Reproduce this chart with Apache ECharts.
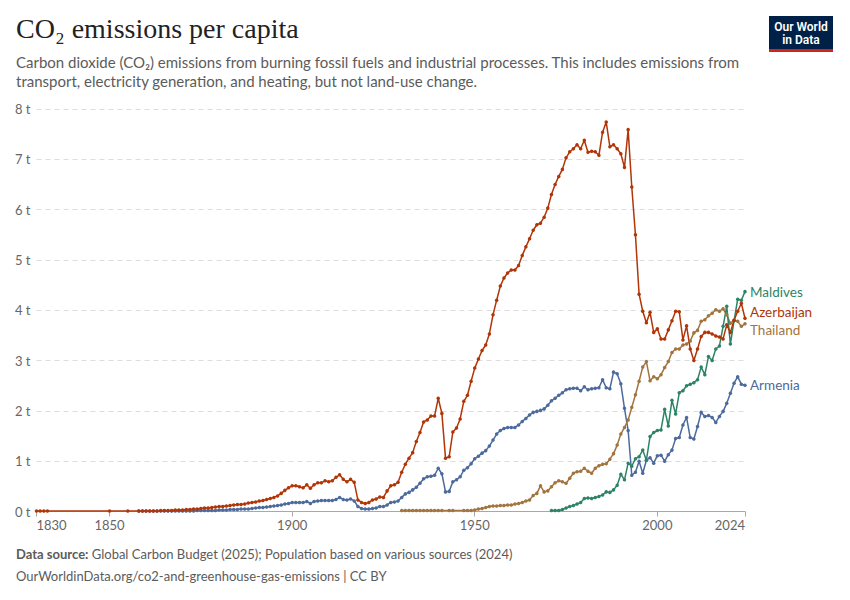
<!DOCTYPE html>
<html>
<head>
<meta charset="utf-8">
<script src="https://cdn.jsdelivr.net/npm/echarts@6/dist/echarts.min.js"></script>
<style>
html, body { margin: 0; padding: 0; background: #fff; }
#chart { width: 850px; height: 600px; }
</style>
</head>
<body>
<div id="chart"></div>
<script>
// CO2 per capita, tonnes, null = no data that year

var azerbaijanStart = 1830;
var azerbaijan = [
    0.01, 0.01, 0.01, 0.01,
    null, null, null, null, null, null, null, null, null, null, null, null, null, null, null, null,
    0.01, null, null, null, null, 0.01, null, null,
    0.01, 0.01, 0.01, 0.01, 0.01, 0.01, 0.02, 0.02, 0.02, 0.02,
    0.03, 0.03, 0.03, 0.04, 0.04, 0.05, 0.05, 0.06, 0.07, 0.07,
    0.08, 0.09, 0.10, 0.10, 0.11, 0.12, 0.13, 0.14, 0.14, 0.15,
    0.17, 0.18, 0.19, 0.21, 0.22, 0.24, 0.26, 0.28, 0.31, 0.36,
    0.42, 0.47,
    0.51, 0.51, 0.49, 0.47, 0.53, 0.46, 0.53, 0.57, 0.57, 0.61,
    0.59, 0.61, 0.68, 0.73, 0.64, 0.59, 0.64, 0.58, 0.23, 0.18,
    0.16, 0.18, 0.23, 0.25, 0.29, 0.28, 0.41, 0.51, 0.53, 0.58,
    0.78, 0.94, 1.06, 1.17, 1.39, 1.57, 1.78, 1.82, 1.90, 1.90,
    2.25, 1.95, 1.06, 1.09, 1.58, 1.66, 1.84, 2.19, 2.31, 2.59,
    2.85, 3.03, 3.20, 3.31, 3.53, 3.91, 4.20, 4.48, 4.64, 4.74,
    4.80, 4.80, 4.89, 5.09, 5.26, 5.42, 5.59, 5.70, 5.73, 5.85,
    6.03, 6.30, 6.50, 6.66, 6.80, 7.03, 7.15, 7.21, 7.29, 7.21,
    7.38, 7.14, 7.16, 7.15, 7.08, 7.54, 7.74, 7.25, 7.29, 7.21,
    7.11, 6.84, 7.59, 6.45, 5.50, 4.32, 3.98, 3.75, 3.96, 3.56,
    3.63, 3.43, 3.43, 3.61, 3.79, 3.98, 3.97, 3.41, 3.69, 3.23,
    3.00, 3.23, 3.48, 3.56, 3.56, 3.53, 3.49, 3.47, 3.43, 3.71,
    3.56, 3.80, 3.98, 4.14, 3.84
];

var armeniaStart = 1858;
var armenia = [
    0.01, 0.01, 0.01, 0.01, 0.01, 0.01, 0.01, 0.01, 0.01, 0.01,
    0.01, 0.01, 0.01, 0.01, 0.01, 0.01, 0.02, 0.02, 0.02, 0.02,
    0.02, 0.02, 0.03, 0.03, 0.03, 0.04, 0.04, 0.04, 0.05, 0.05,
    0.05, 0.06, 0.07, 0.08, 0.08, 0.09, 0.10, 0.11, 0.12, 0.13, 0.15, 0.16,
    0.18, 0.18, 0.18, 0.18, 0.20, 0.16, 0.20, 0.21, 0.22, 0.22,
    0.22, 0.22, 0.24, 0.28, 0.24, 0.23, 0.25, 0.21, 0.10, 0.06,
    0.05, 0.05, 0.06, 0.07, 0.10, 0.10, 0.13, 0.18, 0.19, 0.21,
    0.28, 0.35, 0.38, 0.43, 0.48, 0.56, 0.65, 0.69, 0.70, 0.72,
    0.86, 0.75, 0.39, 0.40, 0.59, 0.63, 0.69, 0.82, 0.87, 0.95,
    1.05, 1.10, 1.16, 1.21, 1.30, 1.42, 1.54, 1.61, 1.65, 1.67,
    1.67, 1.67, 1.72, 1.79, 1.85, 1.92, 1.97, 1.99, 2.01, 2.04,
    2.11, 2.20, 2.25, 2.31, 2.36, 2.42, 2.44, 2.45, 2.45, 2.40,
    2.48, 2.42, 2.44, 2.45, 2.46, 2.62, 2.46, 2.44, 2.77, 2.74,
    2.54, 2.05, 1.61, 0.72, 0.78, 1.00, 0.76, 1.02, 1.07, 0.96,
    1.11, 1.12, 1.00, 1.13, 1.22, 1.45, 1.47, 1.72, 1.87, 1.47,
    1.44, 1.69, 1.97, 1.89, 1.91, 1.87, 1.77, 1.89, 1.99, 2.15,
    2.35, 2.55, 2.68, 2.53, 2.51
];

var thailandStart = 1930;
var thailand = [
    0.02, 0.02, 0.02, 0.02, 0.02, 0.02, 0.02, 0.02, 0.02, 0.02,
    0.02, 0.02, null, 0.02, 0.02, null, null, 0.02, 0.02, 0.02,
    0.03, 0.05, 0.06, 0.08, 0.10, 0.11, 0.11, 0.12, 0.12, 0.13,
    0.13, 0.15, 0.16, 0.18, 0.21, 0.23, 0.32, 0.36, 0.51, 0.39,
    0.41, 0.49, 0.57, 0.61, 0.59, 0.56, 0.66, 0.76, 0.79, 0.80,
    0.86, 0.80, 0.76, 0.86, 0.91, 0.94, 0.95, 1.04, 1.15, 1.32,
    1.54, 1.67, 1.82, 2.07, 2.32, 2.59, 2.87, 2.98, 2.60, 2.68,
    2.64, 2.72, 2.86, 2.98, 3.16, 3.23, 3.23, 3.31, 3.33, 3.39,
    3.55, 3.60, 3.78, 3.81, 3.89, 3.94, 4.01, 3.98, 4.03, 3.91,
    3.74, 3.80, 3.78, 3.68, 3.73
];

var maldivesStart = 1971;
var maldives = [
    0.02, 0.02, 0.02, 0.04, 0.07, 0.10, 0.12, 0.15, 0.18,
    0.26, 0.27, 0.26, 0.28, 0.30, 0.33, 0.39, 0.38, 0.43, 0.52,
    0.74, 0.63, 0.96, 0.90, 1.05, 1.09, 1.22, 1.02, 1.49, 1.57,
    1.61, 1.62, 2.03, 1.70, 2.21, 1.94, 2.36, 2.40, 2.50, 2.53,
    2.56, 2.62, 2.87, 2.72, 3.08, 3.00, 3.23, 3.29, 3.68, 4.08,
    3.33, 3.79, 4.22, 4.20, 4.37
];

var xTicks = [1830, 1850, 1900, 1950, 2000, 2024];

var chart = echarts.init(document.getElementById('chart'), null, {renderer: 'svg'});

function pairs(start, values) {
    var out = [];
    values.forEach(function (v, i) {
        if (v !== null) out.push([start + i, v]);
    });
    return out;
}

function line(name, color, start, values, labelShift) {
    return {
        name: name,
        type: 'line',
        data: pairs(start, values),
        symbol: 'circle',
        symbolSize: 3.5,
        showAllSymbol: true,
        lineStyle: {color: color, width: 1.5},
        itemStyle: {color: color},
        endLabel: {
            show: true,
            formatter: name,
            color: color,
            fontFamily: 'Lato',
            fontSize: 13.5,
            distance: 5,
            offset: [0, labelShift]
        },
        emphasis: {disabled: true}
    };
}

var font = 'Lato, sans-serif';

option = {
    animation: false,
    grid: {left: 36.5, right: 105, top: 109, bottom: 88.5},
    xAxis: {
        type: 'value',
        min: 1830,
        max: 2024,
        splitLine: {show: false},
        axisLine: {lineStyle: {color: '#a8a8a8'}},
        axisTick: {customValues: xTicks, length: 5, lineStyle: {color: '#a8a8a8'}},
        axisLabel: {
            customValues: xTicks,
            formatter: function (v) { return String(v); },
            color: '#666',
            fontFamily: font,
            fontSize: 13,
            margin: 7,
            alignMinLabel: 'left',
            alignMaxLabel: 'right'
        }
    },
    yAxis: {
        type: 'value',
        min: 0,
        max: 8,
        interval: 1,
        axisLine: {show: false},
        axisTick: {show: false},
        splitLine: {lineStyle: {color: '#dddddd', type: [5, 4]}},
        axisLabel: {
            formatter: '{value} t',
            color: '#666',
            fontFamily: font,
            fontSize: 13,
            margin: 6
        }
    },
    series: [
        line('Armenia', '#4c6a9c', armeniaStart, armenia, 0),
        line('Thailand', '#a2743f', thailandStart, thailand, 6),
        line('Maldives', '#2c8465', maldivesStart, maldives, 0),
        line('Azerbaijan', '#b13507', azerbaijanStart, azerbaijan, -6)
    ],
    graphic: [
        {
            type: 'text', left: 16, top: 14,
            style: {text: 'CO₂ emissions per capita', font: '28px "Liberation Serif", serif', fill: '#222'}
        },
        {
            type: 'text', left: 16, top: 52,
            style: {
                text: 'Carbon dioxide (CO₂) emissions from burning fossil fuels and industrial processes. This includes emissions from\ntransport, electricity generation, and heating, but not land-use change.',
                font: '15px Lato, sans-serif', fill: '#5b5b5b', lineHeight: 19
            }
        },
        {
            type: 'group', left: 769, top: 16,
            children: [
                {type: 'rect', shape: {x: 0, y: 0, width: 64, height: 36}, style: {fill: '#002147'}},
                {type: 'rect', shape: {x: 0, y: 33, width: 64, height: 3}, style: {fill: '#ce261e'}},
                {type: 'text', x: 32, y: 4, style: {text: 'Our World\nin Data', font: '600 12px Roboto, sans-serif', fill: '#fff', align: 'center', lineHeight: 13}}
            ]
        },
        {
            type: 'text', left: 16, top: 547,
            style: {
                text: '{b|Data source:} Global Carbon Budget (2025); Population based on various sources (2024)',
                font: '13px Lato, sans-serif', fill: '#5b5b5b',
                rich: {b: {fontWeight: 'bold', fontFamily: 'Lato', fontSize: 13, fill: '#5b5b5b'}}
            }
        },
        {
            type: 'text', left: 16, top: 569,
            style: {text: 'OurWorldinData.org/co2-and-greenhouse-gas-emissions | CC BY', font: '13px Lato, sans-serif', fill: '#5b5b5b'}
        }
    ]
};

chart.setOption(option);
</script>
</body>
</html>
